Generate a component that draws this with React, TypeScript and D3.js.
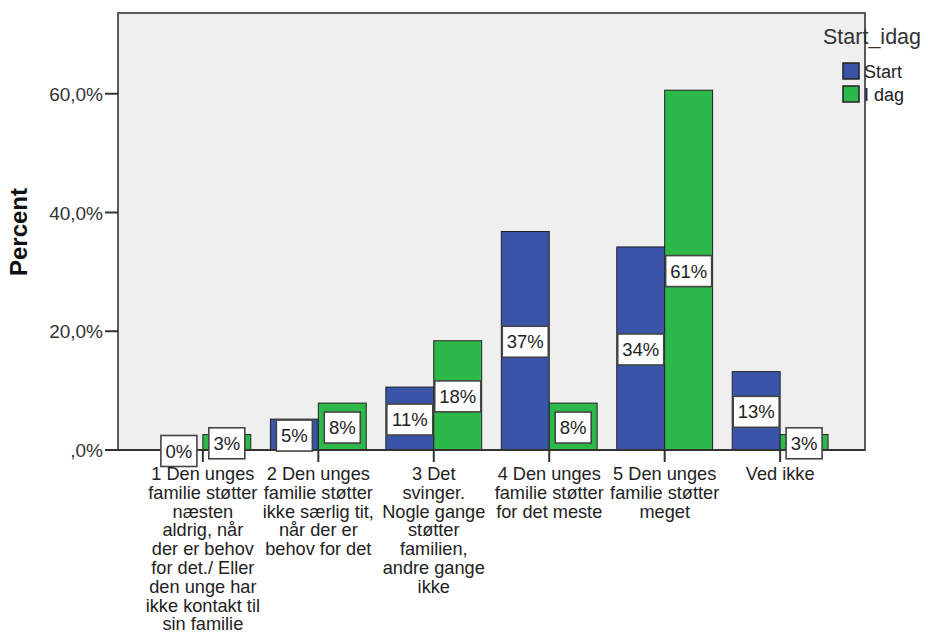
import React from "react";
import * as d3 from "d3";

const categories = ["1", "2", "3", "4", "5", "6"];
const labelLines = [
  ["1 Den unges", "familie støtter", "næsten", "aldrig, når", "der er behov", "for det./ Eller", "den unge har", "ikke kontakt til", "sin familie"],
  ["2 Den unges", "familie støtter", "ikke særlig tit,", "når der er", "behov for det"],
  ["3 Det", "svinger.", "Nogle gange", "støtter", "familien,", "andre gange", "ikke"],
  ["4 Den unges", "familie støtter", "for det meste"],
  ["5 Den unges", "familie støtter", "meget"],
  ["Ved ikke"],
];
const seriesNames = ["Start", "I dag"];
const startValues = [0, 5.2, 10.6, 36.8, 34.2, 13.2];
const idagValues = [2.6, 7.9, 18.4, 7.9, 60.6, 2.6];
const yTicks = [0, 20, 40, 60];
const colors = ["#3a55a8", "#2db84a"];

const W = 928;
const H = 634;
const left = 118;
const right = 865;
const top = 13;
const bottom = 450;
const font = "'Liberation Sans', Arial, sans-serif";

export default function App() {
  const x0 = d3.scaleBand<string>().domain(categories).range([left, right])
    .paddingInner(0.17).paddingOuter(0.32);
  const x1 = d3.scaleBand<string>().domain(seriesNames).range([0, x0.bandwidth()]);
  const y = d3.scaleLinear().domain([0, 73.6]).range([bottom, top]);
  const series = [startValues, idagValues];
  const fmtTick = (v: number) => (v === 0 ? ",0%" : d3.format(".1f")(v).replace(".", ",") + "%");

  return (
    <svg width={W} height={H} style={{ position: "absolute", left: 0, top: 0, display: "block" }}
      fontFamily={font}>
      <rect x={0} y={0} width={W} height={H} fill="#fff" />
      <rect x={left} y={top} width={right - left} height={bottom - top} fill="#efefef"
        stroke="#5a5a5a" strokeWidth={2} />

      {series.map((vals, si) =>
        vals.map((v, i) => (
          <rect key={`b${si}-${i}`} x={x0(categories[i])! + x1(seriesNames[si])!} y={y(v)}
            width={x1.bandwidth()} height={bottom - y(v)} fill={colors[si]}
            stroke="#222" strokeWidth={1} />
        ))
      )}

      {/* axis line */}
      <line x1={105} x2={right} y1={bottom} y2={bottom} stroke="#333" strokeWidth={2} />

      {series.map((vals, si) =>
        vals.map((v, i) => {
          const label = Math.round(v) + "%";
          const bw = label.length > 2 ? 46 : 36;
          const cx = x0(categories[i])! + x1(seriesNames[si])! + x1.bandwidth() / 2;
          const cy = (y(v) + bottom) / 2 + 1;
          return (
            <g key={`l${si}-${i}`}>
              <rect x={cx - bw / 2} y={cy - 15.5} width={bw} height={31} fill="#fff"
                stroke="#444" strokeWidth={1.6} />
              <text x={cx} y={cy + 6.5} textAnchor="middle" fontSize={18.5} fill="#222">{label}</text>
            </g>
          );
        })
      )}

      {/* y axis */}
      {yTicks.map((t) => (
        <g key={`t${t}`}>
          <line x1={105} x2={left} y1={y(t)} y2={y(t)} stroke="#333" strokeWidth={2} />
          <text x={103} y={y(t) + 7} textAnchor="end" fontSize={19} fill="#333">{fmtTick(t)}</text>
        </g>
      ))}
      <text transform={`translate(27,232) rotate(-90)`} textAnchor="middle" fontSize={24}
        fontWeight="bold" fill="#111">Percent</text>

      {/* x axis */}
      {categories.map((c, i) => {
        const cx = x0(c)! + x0.bandwidth() / 2;
        return (
          <g key={`x${c}`}>
            <line x1={cx} x2={cx} y1={bottom} y2={bottom + 12} stroke="#333" strokeWidth={2} />
            <text textAnchor="middle" fontSize={18.2} fill="#222">
              {labelLines[i].map((ln, j) => (
                <tspan key={j} x={cx} y={480 + j * 18.8}>{ln}</tspan>
              ))}
            </text>
          </g>
        );
      })}

      {/* legend */}
      <text x={823} y={44} fontSize={21.5} fill="#333">Start_idag</text>
      {seriesNames.map((s, i) => (
        <g key={`lg${s}`}>
          <rect x={843} y={63 + i * 23} width={16} height={16} fill={colors[i]} stroke="#222"
            strokeWidth={1.5} />
          <text x={864} y={78 + i * 23} fontSize={18} fill="#222">{s}</text>
        </g>
      ))}
    </svg>
  );
}
